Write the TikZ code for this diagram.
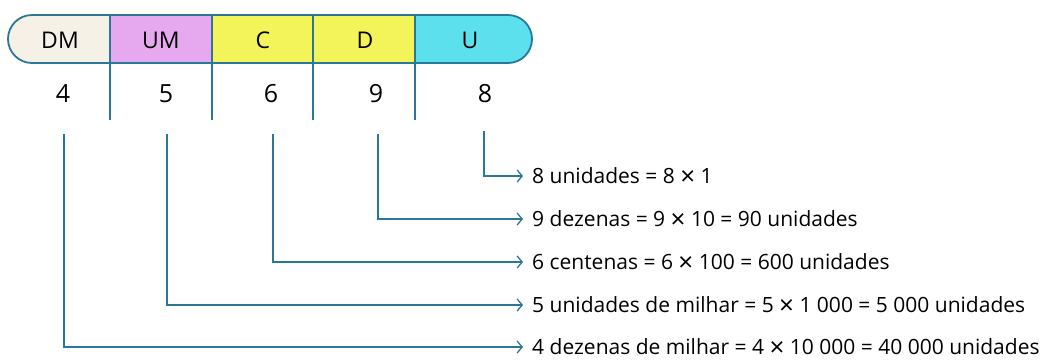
\documentclass[tikz,border=0pt]{standalone}
\usepackage{fontspec}
\setmainfont{Open Sans}
\usetikzlibrary{arrows.meta}
\definecolor{lineblue}{HTML}{2A7898}
\definecolor{cDM}{HTML}{F5F1E6}
\definecolor{cUM}{HTML}{E6A8EE}
\definecolor{cYel}{HTML}{F3F35A}
\definecolor{cU}{HTML}{5CE0EE}
\newcommand{\tms}{\raisebox{-1.6pt}{\fontsize{26}{26}\selectfont ×}}
\tikzset{
  conn/.style={draw=lineblue, line width=1.5pt, -{Straight Barb[length=5pt,width=12pt,line width=1.3pt]}, shorten >=9pt},
  divider/.style={draw=lineblue, line width=1.6pt},
  head/.style={font=\fontsize{23}{25}\selectfont, inner sep=0pt},
  digit/.style={font=\fontsize{25}{27}\selectfont, inner sep=0pt},
  expl/.style={font=\fontsize{21}{23}\selectfont, inner sep=0pt, anchor=west, text height=15pt, text depth=0pt}
}
\begin{document}
\begin{tikzpicture}[x=1pt,y=-1pt]
\useasboundingbox (0,0) rectangle (1050,360);
\fill[white] (0,0) rectangle (1050,360);
% bar fills
\begin{scope}
\clip[rounded corners=24pt] (8,15) rectangle (532,63);
\fill[cDM] (8,15) rectangle (110,63);
\fill[cUM] (110,15) rectangle (212,63);
\fill[cYel] (212,15) rectangle (415,63);
\fill[cU] (415,15) rectangle (532,63);
\end{scope}
\draw[lineblue, line width=1.8pt, rounded corners=24pt] (8,15) rectangle (532,63);
% dividers
\foreach \x in {110,212,313,415} \draw[divider] (\x,15) -- (\x,120);
% headings
\node[head] (hDM) at (60,40) {DM};
\node[head] (hUM) at (161,40) {UM};
\node[head] (hC) at (263,40) {C};
\node[head] (hD) at (365,40) {D};
\node[head] (hU) at (470,40) {U};
% digits
\node[digit] (d4) at (63,94) {4};
\node[digit] (d5) at (166,94) {5};
\node[digit] (d6) at (271,94) {6};
\node[digit] (d9) at (376,94) {9};
\node[digit] (d8) at (485,94) {8};
% connector starts
\coordinate (s4) at (64,134);
\coordinate (s5) at (167,134);
\coordinate (s6) at (273,134);
\coordinate (s9) at (378,134);
\coordinate (s8) at (484,131);
% texts
\node[expl] (t8) at (532,176) {8 unidades = 8 \tms{} 1};
\node[expl] (t9) at (532,219) {9 dezenas = 9 \tms{} 10 = 90 unidades};
\node[expl] (t6) at (532,262) {6 centenas = 6 \tms{} 100 = 600 unidades};
\node[expl] (t5) at (532,305) {5 unidades de milhar = 5 \tms{} 1 000 = 5 000 unidades};
\node[expl] (t4) at (532,347) {4 dezenas de milhar = 4 \tms{} 10 000 = 40 000 unidades};
% connectors
\draw[conn] (s8) |- (t8.west);
\draw[conn] (s9) |- (t9.west);
\draw[conn] (s6) |- (t6.west);
\draw[conn] (s5) |- (t5.west);
\draw[conn] (s4) |- (t4.west);
\end{tikzpicture}
\end{document}
